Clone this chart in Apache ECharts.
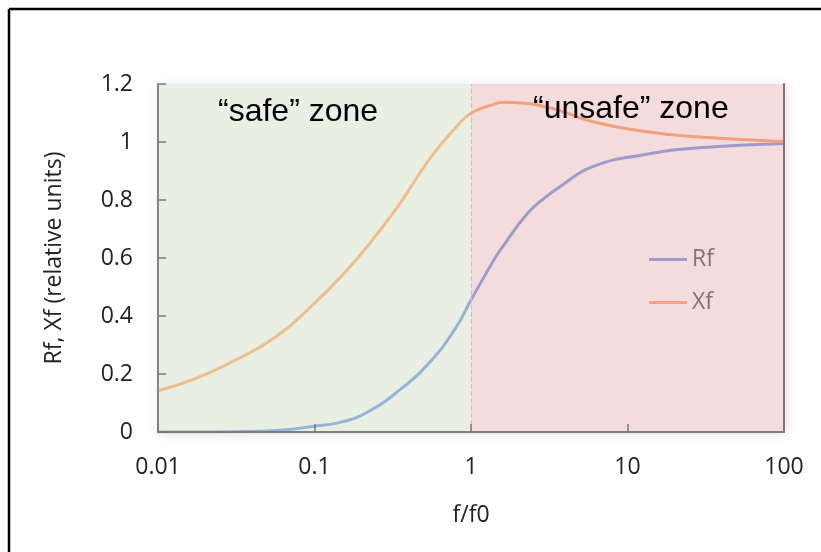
<!DOCTYPE html>
<html>
<head>
<meta charset="utf-8">
<script src="https://cdn.jsdelivr.net/npm/echarts@6/dist/echarts.min.js"></script>
<style>
html,body{margin:0;padding:0;background:#fff;}
#chart{width:821px;height:552px;}
</style>
</head>
<body>
<div id="chart"></div>
<script>
// ---- data ----
const freq = [0.01, 0.017, 0.03, 0.057, 0.1, 0.15, 0.22, 0.35, 0.55, 0.8, 1, 1.4, 1.6, 2.3, 3, 3.7, 6, 13, 27, 100];
const rfValues = [0, 0, 0.001, 0.005, 0.02, 0.035, 0.07, 0.145, 0.243, 0.36, 0.455, 0.593, 0.64, 0.754, 0.81, 0.846, 0.915, 0.957, 0.979, 0.995];
const xfValues = [0.142, 0.182, 0.243, 0.329, 0.444, 0.54, 0.643, 0.787, 0.945, 1.05, 1.099, 1.13, 1.137, 1.133, 1.121, 1.108, 1.07, 1.036, 1.018, 1.002];
const xTickLabels = ['0.01', '0.1', '1', '10', '100'];
const yTickLabels = ['0', '0.2', '0.4', '0.6', '0.8', '1', '1.2'];
const seriesNames = ['Rf', 'Xf'];
const zoneBounds = [0.01, 1, 100];
const zoneLabels = ['\u201csafe\u201d zone', '\u201cunsafe\u201d zone'];
const xTitle = 'f/f0';
const yTitle = 'Rf, Xf (relative units)';

const chart = echarts.init(document.getElementById('chart'), null, {renderer: 'canvas'});

function grad(a, b) {
  return new echarts.graphic.LinearGradient(0, 0, 1, 0, [
    {offset: 0, color: a}, {offset: 0.49, color: a},
    {offset: 0.51, color: b}, {offset: 1, color: b}
  ]);
}
const pair = (xs, ys) => xs.map((x, i) => [x, ys[i]]);
const labelFont = 'Open Sans';
const fs = 23;

const option = {
  animation: false,
  backgroundColor: '#ffffff',
  grid: {
    left: 158, right: 37, top: 84, bottom: 120,
    show: true, backgroundColor: '#ffffff', borderWidth: 0,
    shadowBlur: 12, shadowColor: 'rgba(0,0,0,0.12)', shadowOffsetX: 2, shadowOffsetY: 2
  },
  legend: {
    orient: 'vertical', left: 644, top: 243,
    itemWidth: 38, itemHeight: 3, itemGap: 20, icon: 'rect',
    textStyle: {fontFamily: labelFont, fontSize: fs, color: '#86716f'},
    data: [
      {name: seriesNames[0], itemStyle: {color: '#9d9bcb'}},
      {name: seriesNames[1], itemStyle: {color: '#f3a27d'}}
    ]
  },
  xAxis: [{
    type: 'log', logBase: 10, min: zoneBounds[0], max: zoneBounds[2], z: 10,
    name: xTitle, nameLocation: 'middle', nameGap: 72,
    nameTextStyle: {fontFamily: labelFont, fontSize: fs, color: '#222'},
    axisLine: {show: true, lineStyle: {color: '#858585', width: 2}},
    axisTick: {show: true, inside: true, length: 8, lineStyle: {color: '#7a7a7a', width: 1.5}},
    minorTick: {show: false},
    splitLine: {show: false},
    axisLabel: {
      margin: 24, fontFamily: labelFont, fontSize: fs, color: '#222',
      formatter: function (v) {
        const idx = Math.round(Math.log10(v) + 2);
        return xTickLabels[idx] !== undefined ? xTickLabels[idx] : '';
      }
    }
  }, {
    type: 'log', logBase: 10, min: zoneBounds[0], max: zoneBounds[2], position: 'top', z: 10,
    axisLine: {show: true, lineStyle: {color: '#7e7e7e', width: 2}},
    axisTick: {show: false}, axisLabel: {show: false}, splitLine: {show: false}
  }],
  yAxis: [{
    type: 'value', min: 0, max: 1.2, interval: 0.2, z: 10,
    name: yTitle, nameLocation: 'middle', nameGap: 92,
    nameTextStyle: {fontFamily: labelFont, fontSize: fs, color: '#222'},
    axisLine: {show: true, lineStyle: {color: '#858585', width: 2}},
    axisTick: {show: true, inside: true, length: 8, lineStyle: {color: '#7a7a7a', width: 1.5}},
    splitLine: {show: false},
    axisLabel: {
      margin: 25, fontFamily: labelFont, fontSize: fs, color: '#222',
      formatter: function (v) {
        const idx = Math.round(v / 0.2);
        return yTickLabels[idx] !== undefined ? yTickLabels[idx] : '';
      }
    }
  }, {
    type: 'value', min: 0, max: 1.2, interval: 0.2, position: 'right', z: 10,
    axisLine: {show: true, lineStyle: {color: '#8b7070', width: 2}},
    axisTick: {show: false}, axisLabel: {show: false}, splitLine: {show: false}
  }],
  series: [{
    name: seriesNames[0], type: 'line', smooth: 0.5, showSymbol: false,
    data: pair(freq, rfValues),
    lineStyle: {width: 3, color: grad('#95b4d7', '#9d9bcb')},
    itemStyle: {color: '#9d9bcb'},
    z: 3,
    markArea: {
      silent: true,
      data: [
        [{xAxis: zoneBounds[0], itemStyle: {color: '#e9efe3'}}, {xAxis: zoneBounds[1]}],
        [{xAxis: zoneBounds[1], itemStyle: {color: '#f4dbdc'}}, {xAxis: zoneBounds[2]}]
      ]
    },
    markLine: {
      silent: true, symbol: 'none', label: {show: false},
      lineStyle: {type: 'dashed', color: '#c4c4c4', width: 1.2},
      data: [{xAxis: zoneBounds[1]}]
    }
  }, {
    name: seriesNames[1], type: 'line', smooth: 0.5, showSymbol: false,
    data: pair(freq, xfValues),
    lineStyle: {width: 3, color: grad('#f1bd8b', '#f3a07c')},
    itemStyle: {color: '#f3a27d'},
    z: 3
  }],
  graphic: [
    {type: 'line', shape: {x1: 9, y1: 9, x2: 821, y2: 9}, style: {stroke: '#000', lineWidth: 2.5}, z: 100},
    {type: 'line', shape: {x1: 9, y1: 9, x2: 9, y2: 552}, style: {stroke: '#000', lineWidth: 2.5}, z: 100},
    {type: 'text', left: 218, top: 96, z: 100,
     style: {text: zoneLabels[0], font: '32px "Liberation Sans", Arial, sans-serif', fill: '#000'}},
    {type: 'text', left: 533, top: 93, z: 100,
     style: {text: zoneLabels[1], font: '32px "Liberation Sans", Arial, sans-serif', fill: '#000'}}
  ]
};
chart.setOption(option);
</script>
</body>
</html>
